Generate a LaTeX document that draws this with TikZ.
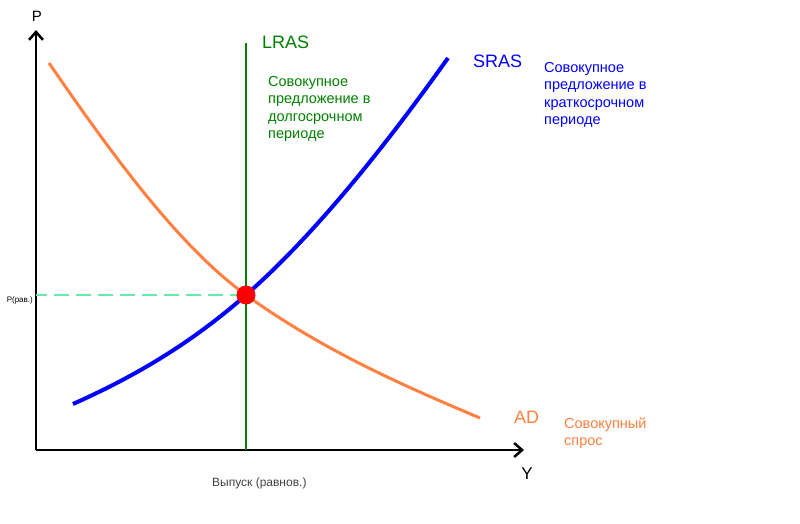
\documentclass[tikz,border=0pt]{standalone}
\usepackage{fontspec}
\setmainfont{Liberation Sans}
\usetikzlibrary{arrows.meta}
\definecolor{adorange}{RGB}{255,128,64}
\definecolor{lrasgreen}{RGB}{0,128,0}
\definecolor{srasblue}{RGB}{0,0,255}
\definecolor{eqdash}{RGB}{100,235,170}
\begin{document}
\begin{tikzpicture}[
    x=1pt, y=-1pt,
    axis/.style={line width=2.5pt,-{Straight Barb[length=8pt,width=14pt]}},
    lras/.style={draw=lrasgreen,line width=2pt},
    sras/.style={draw=srasblue,line width=4pt},
    ad/.style={draw=adorange,line width=3pt},
    lbl/.style={inner sep=0pt,anchor=base west,font=\fontsize{18}{20}\selectfont},
    note/.style={inner sep=0pt,anchor=base west,align=left,font=\fontsize{14.5}{17.5}\selectfont}
]
\useasboundingbox (0,0) rectangle (800,523);

% axes
\coordinate (O) at (36,450);
\coordinate (ptop) at (36,30);
\coordinate (yend) at (524,450);
\draw[axis] (O) -- (ptop);
\draw[axis] (O) -- (yend);
\node[inner sep=0pt,anchor=base,font=\fontsize{15}{15}\selectfont] (P) at (37,21) {P};
\node[inner sep=0pt,anchor=base,font=\fontsize{17}{17}\selectfont] (Y) at (527,479) {Y};

% equilibrium
\coordinate (eq) at (246,295);
\coordinate (peq) at (36,295);
\draw[draw=eqdash,line width=1.5pt,dash pattern=on 15pt off 7pt,dash phase=4pt] (peq) -- (eq);
\node[inner sep=0pt,anchor=base east,font=\fontsize{8}{8}\selectfont] (Peq) at (33,302) {P(рав.)};
\node[inner sep=0pt,anchor=base west,text=black!75,font=\fontsize{12}{12}\selectfont] (Yeq) at (212,486) {Выпуск (равнов.)};

% LRAS
\coordinate (ltop) at (246,43);
\coordinate (lbot) at (246,450);
\draw[lras] (ltop) -- (lbot);
\node[lbl,text=lrasgreen] (LRAS) at (262,48) {LRAS};
% base = last line
\node[note,text=lrasgreen] (lrastxt) at (268,138.5) {Совокупное\\предложение в\\долгосрочном\\периоде};

% AD
\coordinate (ad0) at (49,63);
\coordinate (ad1) at (480,418);
\draw[ad] (ad0) .. controls (115,159) and (180,247) .. (eq)
               .. controls (324,351) and (402,385) .. (ad1);
\node[lbl,text=adorange] (AD) at (514,423) {AD};
\node[note,text=adorange] (adtxt) at (564,445.5) {Совокупный\\спрос};

% SRAS
\coordinate (sras0) at (73,404);
\coordinate (sras1) at (448,58);
\draw[sras] (sras0) .. controls (131,378) and (188,346) .. (eq)
                 .. controls (313,236) and (381,152) .. (sras1);
\node[lbl,text=srasblue] (SRAS) at (473,67) {SRAS};
\node[note,text=srasblue] (srastxt) at (544,124.5) {Совокупное\\предложение в\\краткосрочном\\периоде};

\node[circle,fill=red,inner sep=0pt,minimum size=19pt] (E) at (eq) {};
\end{tikzpicture}
\end{document}
